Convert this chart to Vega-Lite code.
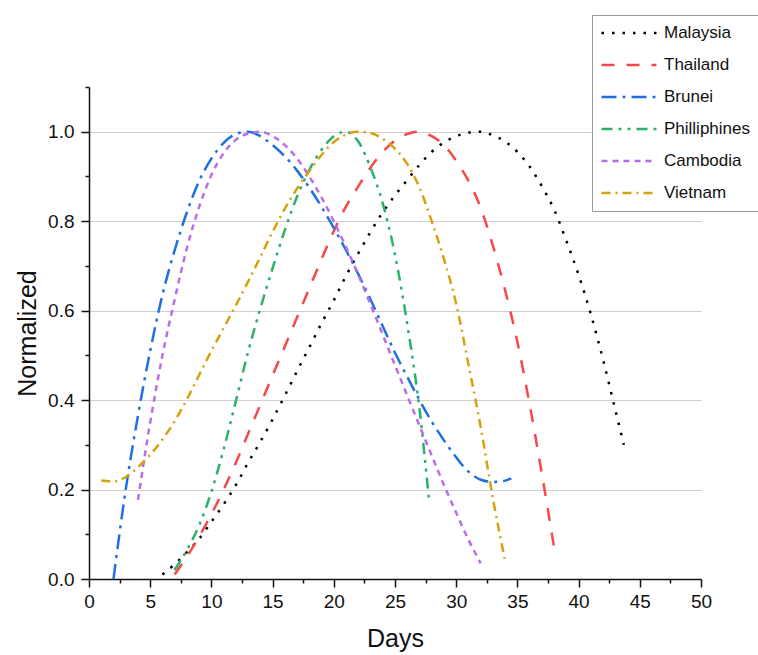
{
  "$schema": "https://vega.github.io/schema/vega-lite/v6.json",
  "width": 612,
  "height": 492,
  "autosize": "none",
  "padding": {"left": 89, "top": 87, "right": 57, "bottom": 76},
  "background": "white",
  "config": {
    "view": {"stroke": null},
    "font": "Liberation Sans",
    "axis": {"labelFont": "Liberation Sans", "titleFont": "Liberation Sans", "labelColor": "#111", "titleColor": "#111", "titleFontWeight": "normal"}
  },
  "data": {
    "values": [
      {"country": "Malaysia", "day": 6, "value": 0.01},
      {"country": "Malaysia", "day": 7, "value": 0.033},
      {"country": "Malaysia", "day": 8, "value": 0.06},
      {"country": "Malaysia", "day": 9, "value": 0.09},
      {"country": "Malaysia", "day": 10, "value": 0.128},
      {"country": "Malaysia", "day": 11, "value": 0.167},
      {"country": "Malaysia", "day": 12, "value": 0.21},
      {"country": "Malaysia", "day": 13, "value": 0.26},
      {"country": "Malaysia", "day": 14, "value": 0.307},
      {"country": "Malaysia", "day": 15, "value": 0.357},
      {"country": "Malaysia", "day": 16, "value": 0.41},
      {"country": "Malaysia", "day": 17, "value": 0.465},
      {"country": "Malaysia", "day": 18, "value": 0.518},
      {"country": "Malaysia", "day": 19, "value": 0.572},
      {"country": "Malaysia", "day": 20, "value": 0.623},
      {"country": "Malaysia", "day": 21, "value": 0.678},
      {"country": "Malaysia", "day": 22, "value": 0.728},
      {"country": "Malaysia", "day": 23, "value": 0.776},
      {"country": "Malaysia", "day": 24, "value": 0.82},
      {"country": "Malaysia", "day": 25, "value": 0.858},
      {"country": "Malaysia", "day": 26, "value": 0.892},
      {"country": "Malaysia", "day": 27, "value": 0.926},
      {"country": "Malaysia", "day": 28, "value": 0.955},
      {"country": "Malaysia", "day": 29, "value": 0.976},
      {"country": "Malaysia", "day": 30, "value": 0.99},
      {"country": "Malaysia", "day": 31, "value": 0.998},
      {"country": "Malaysia", "day": 32, "value": 1.0},
      {"country": "Malaysia", "day": 33, "value": 0.992},
      {"country": "Malaysia", "day": 34, "value": 0.978},
      {"country": "Malaysia", "day": 35, "value": 0.955},
      {"country": "Malaysia", "day": 36, "value": 0.922},
      {"country": "Malaysia", "day": 37, "value": 0.878},
      {"country": "Malaysia", "day": 38, "value": 0.826},
      {"country": "Malaysia", "day": 39, "value": 0.756},
      {"country": "Malaysia", "day": 40, "value": 0.68},
      {"country": "Malaysia", "day": 41, "value": 0.592},
      {"country": "Malaysia", "day": 42, "value": 0.49},
      {"country": "Malaysia", "day": 43, "value": 0.378},
      {"country": "Malaysia", "day": 43.7, "value": 0.3},

      {"country": "Thailand", "day": 7, "value": 0.01},
      {"country": "Thailand", "day": 8, "value": 0.05},
      {"country": "Thailand", "day": 9, "value": 0.095},
      {"country": "Thailand", "day": 10, "value": 0.145},
      {"country": "Thailand", "day": 11, "value": 0.2},
      {"country": "Thailand", "day": 12, "value": 0.26},
      {"country": "Thailand", "day": 13, "value": 0.325},
      {"country": "Thailand", "day": 14, "value": 0.39},
      {"country": "Thailand", "day": 15, "value": 0.455},
      {"country": "Thailand", "day": 16, "value": 0.52},
      {"country": "Thailand", "day": 17, "value": 0.585},
      {"country": "Thailand", "day": 18, "value": 0.65},
      {"country": "Thailand", "day": 19, "value": 0.715},
      {"country": "Thailand", "day": 20, "value": 0.778},
      {"country": "Thailand", "day": 21, "value": 0.833},
      {"country": "Thailand", "day": 22, "value": 0.878},
      {"country": "Thailand", "day": 23, "value": 0.92},
      {"country": "Thailand", "day": 24, "value": 0.955},
      {"country": "Thailand", "day": 25, "value": 0.98},
      {"country": "Thailand", "day": 26, "value": 0.995},
      {"country": "Thailand", "day": 27, "value": 1.0},
      {"country": "Thailand", "day": 28, "value": 0.99},
      {"country": "Thailand", "day": 29, "value": 0.97},
      {"country": "Thailand", "day": 30, "value": 0.935},
      {"country": "Thailand", "day": 31, "value": 0.89},
      {"country": "Thailand", "day": 32, "value": 0.83},
      {"country": "Thailand", "day": 33, "value": 0.745},
      {"country": "Thailand", "day": 34, "value": 0.645},
      {"country": "Thailand", "day": 35, "value": 0.53},
      {"country": "Thailand", "day": 36, "value": 0.39},
      {"country": "Thailand", "day": 37, "value": 0.235},
      {"country": "Thailand", "day": 38, "value": 0.07},

      {"country": "Brunei", "day": 2, "value": 0.0},
      {"country": "Brunei", "day": 3, "value": 0.2},
      {"country": "Brunei", "day": 4, "value": 0.365},
      {"country": "Brunei", "day": 5, "value": 0.51},
      {"country": "Brunei", "day": 6, "value": 0.635},
      {"country": "Brunei", "day": 7, "value": 0.735},
      {"country": "Brunei", "day": 8, "value": 0.82},
      {"country": "Brunei", "day": 9, "value": 0.89},
      {"country": "Brunei", "day": 10, "value": 0.94},
      {"country": "Brunei", "day": 11, "value": 0.975},
      {"country": "Brunei", "day": 12, "value": 0.995},
      {"country": "Brunei", "day": 13, "value": 1.0},
      {"country": "Brunei", "day": 14, "value": 0.99},
      {"country": "Brunei", "day": 15, "value": 0.97},
      {"country": "Brunei", "day": 16, "value": 0.945},
      {"country": "Brunei", "day": 17, "value": 0.913},
      {"country": "Brunei", "day": 18, "value": 0.875},
      {"country": "Brunei", "day": 19, "value": 0.832},
      {"country": "Brunei", "day": 20, "value": 0.785},
      {"country": "Brunei", "day": 21, "value": 0.735},
      {"country": "Brunei", "day": 22, "value": 0.682},
      {"country": "Brunei", "day": 23, "value": 0.625},
      {"country": "Brunei", "day": 24, "value": 0.565},
      {"country": "Brunei", "day": 25, "value": 0.506},
      {"country": "Brunei", "day": 26, "value": 0.452},
      {"country": "Brunei", "day": 27, "value": 0.4},
      {"country": "Brunei", "day": 28, "value": 0.352},
      {"country": "Brunei", "day": 29, "value": 0.31},
      {"country": "Brunei", "day": 30, "value": 0.272},
      {"country": "Brunei", "day": 31, "value": 0.24},
      {"country": "Brunei", "day": 32, "value": 0.222},
      {"country": "Brunei", "day": 33, "value": 0.217},
      {"country": "Brunei", "day": 34, "value": 0.22},
      {"country": "Brunei", "day": 34.5, "value": 0.225},

      {"country": "Philliphines", "day": 7, "value": 0.02},
      {"country": "Philliphines", "day": 8, "value": 0.065},
      {"country": "Philliphines", "day": 9, "value": 0.12},
      {"country": "Philliphines", "day": 10, "value": 0.195},
      {"country": "Philliphines", "day": 11, "value": 0.29},
      {"country": "Philliphines", "day": 12, "value": 0.398},
      {"country": "Philliphines", "day": 13, "value": 0.508},
      {"country": "Philliphines", "day": 14, "value": 0.605},
      {"country": "Philliphines", "day": 15, "value": 0.695},
      {"country": "Philliphines", "day": 16, "value": 0.78},
      {"country": "Philliphines", "day": 17, "value": 0.855},
      {"country": "Philliphines", "day": 18, "value": 0.915},
      {"country": "Philliphines", "day": 19, "value": 0.96},
      {"country": "Philliphines", "day": 20, "value": 0.99},
      {"country": "Philliphines", "day": 21, "value": 1.0},
      {"country": "Philliphines", "day": 22, "value": 0.978},
      {"country": "Philliphines", "day": 23, "value": 0.92},
      {"country": "Philliphines", "day": 24, "value": 0.84},
      {"country": "Philliphines", "day": 25, "value": 0.725},
      {"country": "Philliphines", "day": 26, "value": 0.57},
      {"country": "Philliphines", "day": 27, "value": 0.38},
      {"country": "Philliphines", "day": 27.8, "value": 0.17},

      {"country": "Cambodia", "day": 4, "value": 0.177},
      {"country": "Cambodia", "day": 5, "value": 0.35},
      {"country": "Cambodia", "day": 6, "value": 0.5},
      {"country": "Cambodia", "day": 7, "value": 0.625},
      {"country": "Cambodia", "day": 8, "value": 0.74},
      {"country": "Cambodia", "day": 9, "value": 0.832},
      {"country": "Cambodia", "day": 10, "value": 0.903},
      {"country": "Cambodia", "day": 11, "value": 0.952},
      {"country": "Cambodia", "day": 12, "value": 0.982},
      {"country": "Cambodia", "day": 13, "value": 0.996},
      {"country": "Cambodia", "day": 14, "value": 1.0},
      {"country": "Cambodia", "day": 15, "value": 0.99},
      {"country": "Cambodia", "day": 16, "value": 0.97},
      {"country": "Cambodia", "day": 17, "value": 0.94},
      {"country": "Cambodia", "day": 18, "value": 0.9},
      {"country": "Cambodia", "day": 19, "value": 0.853},
      {"country": "Cambodia", "day": 20, "value": 0.8},
      {"country": "Cambodia", "day": 21, "value": 0.742},
      {"country": "Cambodia", "day": 22, "value": 0.68},
      {"country": "Cambodia", "day": 23, "value": 0.614},
      {"country": "Cambodia", "day": 24, "value": 0.546},
      {"country": "Cambodia", "day": 25, "value": 0.478},
      {"country": "Cambodia", "day": 26, "value": 0.41},
      {"country": "Cambodia", "day": 27, "value": 0.343},
      {"country": "Cambodia", "day": 28, "value": 0.276},
      {"country": "Cambodia", "day": 29, "value": 0.21},
      {"country": "Cambodia", "day": 30, "value": 0.148},
      {"country": "Cambodia", "day": 31, "value": 0.088},
      {"country": "Cambodia", "day": 32, "value": 0.035},

      {"country": "Vietnam", "day": 1, "value": 0.22},
      {"country": "Vietnam", "day": 2, "value": 0.218},
      {"country": "Vietnam", "day": 3, "value": 0.228},
      {"country": "Vietnam", "day": 4, "value": 0.25},
      {"country": "Vietnam", "day": 5, "value": 0.278},
      {"country": "Vietnam", "day": 6, "value": 0.312},
      {"country": "Vietnam", "day": 7, "value": 0.353},
      {"country": "Vietnam", "day": 8, "value": 0.402},
      {"country": "Vietnam", "day": 9, "value": 0.456},
      {"country": "Vietnam", "day": 10, "value": 0.51},
      {"country": "Vietnam", "day": 11, "value": 0.561},
      {"country": "Vietnam", "day": 12, "value": 0.612},
      {"country": "Vietnam", "day": 13, "value": 0.665},
      {"country": "Vietnam", "day": 14, "value": 0.72},
      {"country": "Vietnam", "day": 15, "value": 0.776},
      {"country": "Vietnam", "day": 16, "value": 0.828},
      {"country": "Vietnam", "day": 17, "value": 0.873},
      {"country": "Vietnam", "day": 18, "value": 0.912},
      {"country": "Vietnam", "day": 19, "value": 0.948},
      {"country": "Vietnam", "day": 20, "value": 0.977},
      {"country": "Vietnam", "day": 21, "value": 0.994},
      {"country": "Vietnam", "day": 22, "value": 1.0},
      {"country": "Vietnam", "day": 23, "value": 0.997},
      {"country": "Vietnam", "day": 24, "value": 0.984},
      {"country": "Vietnam", "day": 25, "value": 0.962},
      {"country": "Vietnam", "day": 26, "value": 0.928},
      {"country": "Vietnam", "day": 27, "value": 0.875},
      {"country": "Vietnam", "day": 28, "value": 0.8},
      {"country": "Vietnam", "day": 29, "value": 0.715},
      {"country": "Vietnam", "day": 30, "value": 0.615},
      {"country": "Vietnam", "day": 31, "value": 0.48},
      {"country": "Vietnam", "day": 32, "value": 0.34},
      {"country": "Vietnam", "day": 33, "value": 0.18},
      {"country": "Vietnam", "day": 34, "value": 0.04}
    ]
  },
  "layer": [
    {
      "mark": {"type": "line", "interpolate": "monotone", "strokeWidth": 2.5, "clip": true},
      "encoding": {
        "x": {
          "field": "day", "type": "quantitative",
          "scale": {"domain": [0, 50], "nice": false, "zero": false},
          "axis": {
            "title": "Days", "titleFontSize": 25, "titlePadding": 15,
            "values": [0, 5, 10, 15, 20, 25, 30, 35, 40, 45, 50],
            "labelFontSize": 19, "labelPadding": 5, "labelFlush": false,
            "tickSize": 8, "tickWidth": 1.5, "tickColor": "#111",
            "domainColor": "#111", "domainWidth": 1.5, "grid": false, "orient": "bottom"
          }
        },
        "y": {
          "field": "value", "type": "quantitative",
          "scale": {"domain": [0, 1.1], "nice": false},
          "axis": {
            "title": "Normalized", "titleFontSize": 25, "titlePadding": 7,
            "values": [0, 0.2, 0.4, 0.6, 0.8, 1.0], "format": ".1f",
            "labelFontSize": 19, "labelPadding": 7, "labelFlush": false,
            "tickSize": 8, "tickWidth": 1.5, "tickColor": "#111",
            "domainColor": "#111", "domainWidth": 1.5,
            "grid": true, "gridColor": "#cfcfcf", "gridWidth": 1.2, "orient": "left"
          }
        },
        "color": {
          "field": "country", "type": "nominal",
          "sort": ["Malaysia", "Thailand", "Brunei", "Philliphines", "Cambodia", "Vietnam"],
          "scale": {
            "domain": ["Malaysia", "Thailand", "Brunei", "Philliphines", "Cambodia", "Vietnam"],
            "range": ["#000000", "#F8474A", "#2070E0", "#2DB06A", "#B86EE8", "#D4A20E"]
          },
          "legend": {
            "title": null, "orient": "none", "legendX": 503, "legendY": -72,
            "strokeColor": "#9a9a9a", "fillColor": "white",
            "padding": 8, "symbolSize": 3025, "symbolStrokeWidth": 2.5,
            "clipHeight": 20, "rowPadding": 12, "labelFontSize": 17, "labelFont": "Liberation Sans",
            "labelColor": "#111", "labelOffset": 6, "labelLimit": 200
          }
        },
        "strokeDash": {
          "field": "country", "type": "nominal",
          "sort": ["Malaysia", "Thailand", "Brunei", "Philliphines", "Cambodia", "Vietnam"],
          "scale": {
            "domain": ["Malaysia", "Thailand", "Brunei", "Philliphines", "Cambodia", "Vietnam"],
            "range": [[2.5, 8], [13, 12], [15, 6, 3, 6], [11, 6, 3, 6, 3, 6], [6, 5], [9, 5, 2, 5]]
          }
        }
      }
    },
    {
      "mark": {"type": "line", "strokeOpacity": 0},
      "encoding": {
        "x": {
          "field": "day", "type": "quantitative",
          "axis": {
            "title": null, "orient": "bottom", "labels": false, "domain": false, "grid": false,
            "values": [2.5, 7.5, 12.5, 17.5, 22.5, 27.5, 32.5, 37.5, 42.5, 47.5],
            "tickSize": 4, "tickWidth": 1.5, "tickColor": "#111"
          }
        },
        "y": {
          "field": "value", "type": "quantitative",
          "axis": {
            "title": null, "orient": "left", "labels": false, "domain": false, "grid": false,
            "values": [0.1, 0.3, 0.5, 0.7, 0.9, 1.1],
            "tickSize": 4, "tickWidth": 1.5, "tickColor": "#111"
          }
        },
        "detail": {"field": "country", "type": "nominal"}
      }
    }
  ],
  "resolve": {"axis": {"x": "independent", "y": "independent"}}
}
